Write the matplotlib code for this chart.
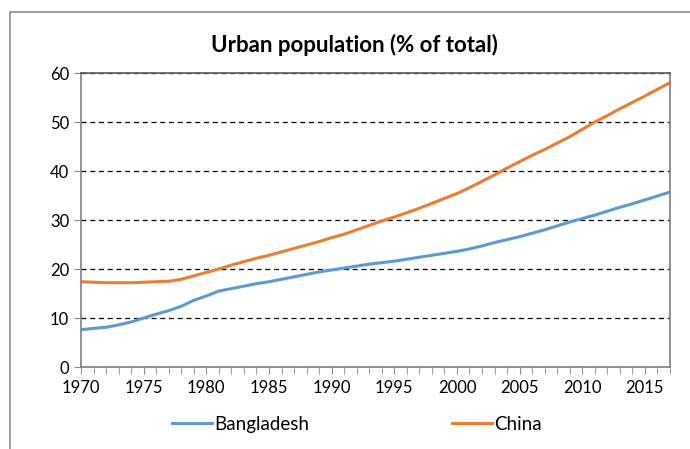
import matplotlib.pyplot as plt
import numpy as np
from matplotlib.patches import Rectangle

years = np.arange(1970, 2018)

bangladesh = [7.6, 7.9, 8.1, 8.6, 9.2, 10.0, 10.8, 11.5, 12.4, 13.6,
              14.5, 15.5, 16.0, 16.5, 17.0, 17.4, 17.9, 18.4, 18.9, 19.4,
              19.8, 20.2, 20.6, 21.0, 21.3, 21.6, 22.0, 22.4, 22.8, 23.2,
              23.6, 24.1, 24.7, 25.4, 26.0, 26.6, 27.3, 28.0, 28.8, 29.6,
              30.3, 31.0, 31.8, 32.6, 33.3, 34.1, 34.9, 35.7]
china = [17.4, 17.3, 17.2, 17.2, 17.2, 17.3, 17.4, 17.5, 17.9, 18.6,
         19.3, 20.0, 20.8, 21.5, 22.2, 22.8, 23.5, 24.2, 24.9, 25.6,
         26.4, 27.1, 28.0, 28.9, 29.8, 30.6, 31.5, 32.4, 33.4, 34.4,
         35.4, 36.6, 37.9, 39.2, 40.6, 41.9, 43.2, 44.4, 45.7, 47.0,
         48.5, 50.0, 51.3, 52.7, 54.0, 55.3, 56.7, 58.0]

plt.rcParams['font.family'] = ['Lato', 'DejaVu Sans']

fig = plt.figure(figsize=(6.9, 4.49), dpi=100)
ax = fig.add_axes([0.1174, 0.1826, 0.8536, 0.6548])

# outer chart border
fig.patches.append(Rectangle((10 / 690, -0.1), 1.2, 1 - 12 / 449 + 0.1,
                             transform=fig.transFigure, fill=False,
                             edgecolor="#8c8c8c", linewidth=1.2))

ax.plot(years, bangladesh, color="#5B9BD5", linewidth=2.2, label="Bangladesh")
ax.plot(years, china, color="#ED7D31", linewidth=2.2, label="China")

ax.set_xlim(1970, 2017)
ax.set_ylim(0, 60)
ax.set_yticks(np.arange(0, 61, 10))
ax.set_xticks(np.arange(1970, 2016, 5))
ax.set_xticks(years, minor=True)
ax.yaxis.grid(True, color="black", linestyle=(0, (4, 3)), linewidth=0.9)
ax.set_axisbelow(True)

for s in ax.spines.values():
    s.set_color("#7f7f7f")
    s.set_linewidth(1.2)
ax.spines["top"].set_color("#595959")

ax.tick_params(axis="x", which="both", direction="out", length=5, color="#8c8c8c",
               labelsize=12, pad=4)
ax.tick_params(axis="y", direction="out", length=5, color="#8c8c8c", labelsize=12)

# title is centred on the whole chart area, not on the plot
fig.text(354 / 690, 1 - 45 / 449, "Urban population (% of total)", fontsize=16,
         fontweight="bold", ha="center", va="center")

ax.legend(loc="center", bbox_to_anchor=(0.469, -0.195), ncol=2, frameon=False,
          fontsize=13.5, handlelength=2.1, handletextpad=0.15, columnspacing=7.6)

fig.savefig("out.png", dpi=100)
